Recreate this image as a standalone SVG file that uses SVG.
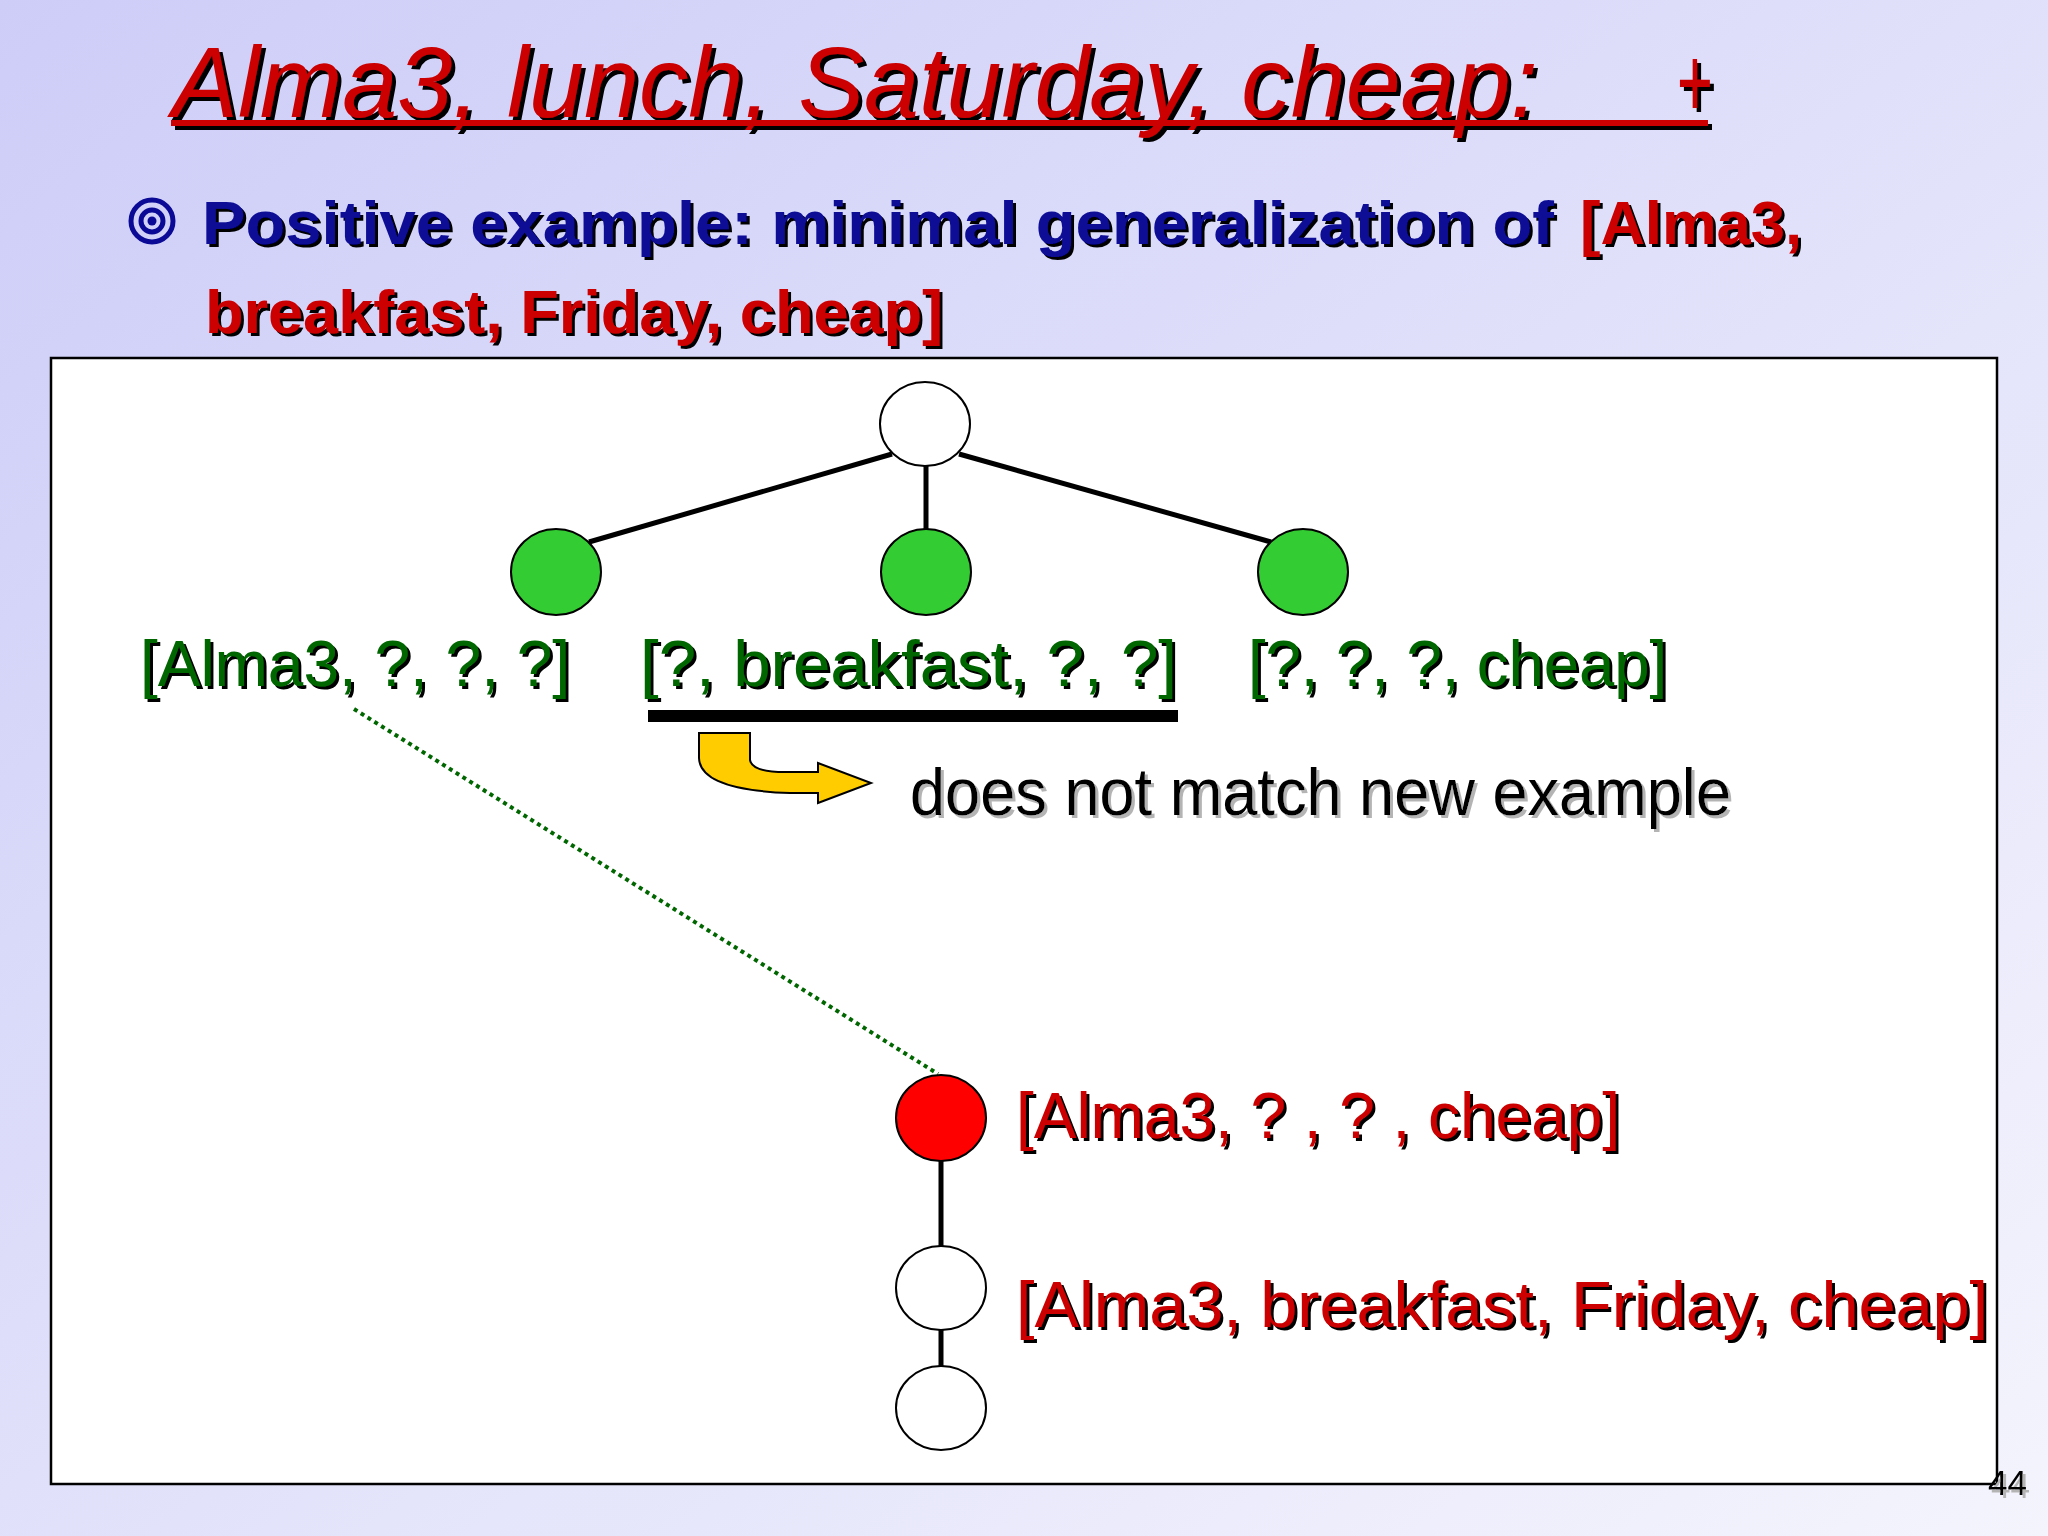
<svg xmlns="http://www.w3.org/2000/svg" width="2048" height="1536" viewBox="0 0 2048 1536">
<defs>
<linearGradient id="bg" x1="0" y1="0" x2="1" y2="1">
<stop offset="0" stop-color="#CDCDF8"/>
<stop offset="1" stop-color="#F4F4FD"/>
</linearGradient>
<filter id="sh4" x="-5%" y="-20%" width="110%" height="150%"><feDropShadow dx="4" dy="4" stdDeviation="0" flood-color="#000"/></filter>
<filter id="sh3" x="-5%" y="-20%" width="110%" height="150%"><feDropShadow dx="3" dy="3" stdDeviation="0" flood-color="#000"/></filter>
<filter id="shg" x="-5%" y="-20%" width="110%" height="150%"><feDropShadow dx="3" dy="3" stdDeviation="0.5" flood-color="#B4B4B4"/></filter>
<style>
.t{font-family:"Liberation Sans",Arial,sans-serif}
.title{font-size:100px;font-style:italic;fill:#CC0000}
.bul{font-size:62px;font-weight:bold}
.lab{font-size:65px}
.green{fill:#006600}
.red{fill:#CC0000}
.blue{fill:#0A0A96}
.node{stroke:#000;stroke-width:2}
.edge{stroke:#000;stroke-width:5;fill:none}
</style>
</defs>
<rect x="0" y="0" width="2048" height="1536" fill="url(#bg)"/>
<g id="title" filter="url(#sh4)">
<text class="t title" x="172" y="117" textLength="1366" lengthAdjust="spacingAndGlyphs">Alma3, lunch, Saturday, cheap:</text>
<text class="t title" x="1676" y="117" textLength="36" lengthAdjust="spacingAndGlyphs">+</text>
<rect x="171" y="120" width="1537" height="6" fill="#CC0000"/>
</g>
<g id="bullet">
<circle cx="152" cy="221" r="21" fill="none" stroke="#0A0A96" stroke-width="5"/>
<circle cx="152" cy="221" r="11" fill="none" stroke="#0A0A96" stroke-width="5"/>
<circle cx="152" cy="221" r="4.5" fill="#0A0A96"/>
<g filter="url(#sh3)">
<text class="t bul blue" x="202" y="244" textLength="1352" lengthAdjust="spacingAndGlyphs">Positive example: minimal generalization of</text>
<text class="t bul red" x="1580" y="244" textLength="222" lengthAdjust="spacingAndGlyphs">[Alma3,</text>
<text class="t bul red" x="205" y="333" textLength="738" lengthAdjust="spacingAndGlyphs">breakfast, Friday, cheap]</text>
</g>
</g>
<rect id="frame" x="51" y="358" width="1946" height="1126" fill="#FFFFFF" stroke="#000" stroke-width="2.5"/>
<g id="connectors">
<line class="edge" x1="892" y1="454" x2="589" y2="542"/>
<line class="edge" x1="926" y1="466" x2="926" y2="530"/>
<line class="edge" x1="959" y1="454" x2="1271" y2="542"/>
<line class="edge" x1="941" y1="1160" x2="941" y2="1247"/>
<line class="edge" x1="941" y1="1330" x2="941" y2="1366"/>
<line x1="354" y1="709" x2="938" y2="1074" stroke="#006600" stroke-width="4" stroke-dasharray="4 4"/>
</g>
<g id="root"><ellipse class="node" cx="925" cy="424" rx="45" ry="42" fill="#FFFFFF"/></g>
<g id="g1"><ellipse class="node" cx="556" cy="572" rx="45" ry="43" fill="#33CC33"/></g>
<g id="g2"><ellipse class="node" cx="926" cy="572" rx="45" ry="43" fill="#33CC33"/></g>
<g id="g3"><ellipse class="node" cx="1303" cy="572" rx="45" ry="43" fill="#33CC33"/></g>
<g id="labels-green" filter="url(#sh3)">
<text class="t lab green" x="140" y="686" textLength="430" lengthAdjust="spacingAndGlyphs">[Alma3, ?, ?, ?]</text>
<text class="t lab green" x="640" y="686" textLength="537" lengthAdjust="spacingAndGlyphs">[?, breakfast, ?, ?]</text>
<text class="t lab green" x="1248" y="686" textLength="419" lengthAdjust="spacingAndGlyphs">[?, ?, ?, cheap]</text>
</g>
<rect id="bar" x="648" y="710" width="530" height="12" fill="#000"/>
<g id="note">
<path d="M699,733 L750,733 L750,760 Q752,772 785,772 L818,772 L818,763 L871,783 L818,803 L818,793 L790,793 Q700,790 699,758 Z" fill="#FFCC00" stroke="#000" stroke-width="2" stroke-linejoin="miter"/>
<text class="t" x="910" y="815" font-size="66" fill="#000" filter="url(#shg)" textLength="821" lengthAdjust="spacingAndGlyphs">does not match new example</text>
</g>
<g id="r1"><ellipse class="node" cx="941" cy="1118" rx="45" ry="43" fill="#FF0000"/>
<text class="t lab red" x="1016" y="1138" filter="url(#sh3)" textLength="604" lengthAdjust="spacingAndGlyphs">[Alma3, ? , ? , cheap]</text></g>
<g id="w2"><ellipse class="node" cx="941" cy="1288" rx="45" ry="42" fill="#FFFFFF"/>
<text class="t lab red" x="1016" y="1327" filter="url(#sh3)" textLength="972" lengthAdjust="spacingAndGlyphs">[Alma3, breakfast, Friday, cheap]</text></g>
<g id="w3"><ellipse class="node" cx="941" cy="1408" rx="45" ry="42" fill="#FFFFFF"/></g>
<text class="t" x="1988" y="1495" font-size="35" fill="#000" filter="url(#shg)" textLength="39" lengthAdjust="spacingAndGlyphs">44</text>
</svg>
